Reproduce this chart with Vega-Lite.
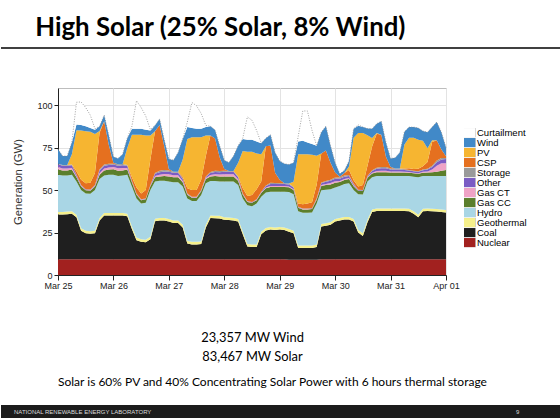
{
"$schema": "https://vega.github.io/schema/vega-lite/v6.json",
"padding": {"left": 0, "right": 0, "top": 15, "bottom": 0},
"background": "white",
"title": {"text": "High Solar (25% Solar, 8% Wind)", "anchor": "start", "frame": "bounds", "dx": 35, "font": "Lato", "fontSize": 25.8, "fontWeight": "bold", "color": "#000000", "offset": 5},
"spacing": 16,
"config": {"view": {"stroke": null}, "font": "Liberation Sans"},
"vconcat": [
{
"width": 560, "height": 23,
"data": {"values": [{"divider": "title rule"}]},
"mark": {"type": "rule", "color": "#000000", "strokeWidth": 1.6},
"encoding": {"y": {"datum": 1, "type": "quantitative", "scale": {"domain": [0, 1]}, "axis": null}}
},
{
"hconcat": [
{
"width": 11, "height": 1,
"data": {"values": []},
"mark": "rule",
"encoding": {}
},
{
"width": 388, "height": 187,
"view": {"stroke": "#bdbdbd", "strokeWidth": 1},
"title": {"text": "Solar is 60% PV and 40% Concentrating Solar Power with 6 hours thermal storage", "orient": "bottom", "anchor": "start", "frame": "group", "font": "Lato", "fontSize": 12, "fontWeight": "normal", "color": "#000000", "offset": 14},
"data": {"values": [
{"t":"2020-03-25T00:00","Nuclear":9.2,"Coal":26.4,"Geothermal":1.5,"Hydro":21.8,"Gas CC":3.2,"Gas CT":1.4,"Other":1.6,"Storage":0.4,"CSP":0,"PV":0,"Wind":8.5,"Curtailment":0},
{"t":"2020-03-25T02:00","Nuclear":9.2,"Coal":26.4,"Geothermal":1.5,"Hydro":21.4,"Gas CC":3.0,"Gas CT":1.2,"Other":1.5,"Storage":0.5,"CSP":0,"PV":0,"Wind":5.3,"Curtailment":0},
{"t":"2020-03-25T04:00","Nuclear":9.2,"Coal":26.6,"Geothermal":1.5,"Hydro":21.2,"Gas CC":3.0,"Gas CT":1.2,"Other":1.5,"Storage":0.5,"CSP":0,"PV":0,"Wind":5.3,"Curtailment":0},
{"t":"2020-03-25T06:00","Nuclear":9.2,"Coal":26.8,"Geothermal":1.5,"Hydro":21.5,"Gas CC":3.0,"Gas CT":1.0,"Other":1.5,"Storage":0.5,"CSP":0,"PV":6,"Wind":7,"Curtailment":0},
{"t":"2020-03-25T08:00","Nuclear":9.2,"Coal":24.8,"Geothermal":1.5,"Hydro":19.5,"Gas CC":2.5,"Gas CT":0.5,"Other":0.8,"Storage":0.3,"CSP":2,"PV":24,"Wind":3.5,"Curtailment":13},
{"t":"2020-03-25T10:00","Nuclear":9.2,"Coal":16.8,"Geothermal":1.5,"Hydro":22.5,"Gas CC":2.0,"Gas CT":0.3,"Other":0.5,"Storage":0.2,"CSP":3,"PV":29,"Wind":3.3,"Curtailment":13.5},
{"t":"2020-03-25T12:00","Nuclear":9.2,"Coal":15.3,"Geothermal":1.5,"Hydro":22.0,"Gas CC":1.8,"Gas CT":0.2,"Other":0.3,"Storage":0.2,"CSP":3.5,"PV":30.5,"Wind":3,"Curtailment":11},
{"t":"2020-03-25T14:00","Nuclear":9.2,"Coal":15.1,"Geothermal":1.5,"Hydro":22.0,"Gas CC":1.8,"Gas CT":0.2,"Other":0.3,"Storage":0.2,"CSP":4,"PV":30,"Wind":2.2,"Curtailment":7.5},
{"t":"2020-03-25T16:00","Nuclear":9.2,"Coal":15.4,"Geothermal":1.5,"Hydro":23.9,"Gas CC":2.0,"Gas CT":0.3,"Other":0.5,"Storage":0.2,"CSP":7,"PV":23,"Wind":2.5,"Curtailment":0.5},
{"t":"2020-03-25T18:00","Nuclear":9.2,"Coal":22.8,"Geothermal":1.5,"Hydro":23.0,"Gas CC":2.5,"Gas CT":1.0,"Other":1.5,"Storage":0.7,"CSP":21.5,"PV":1,"Wind":2.8,"Curtailment":0},
{"t":"2020-03-25T20:00","Nuclear":9.2,"Coal":25.8,"Geothermal":1.5,"Hydro":22.0,"Gas CC":3.0,"Gas CT":1.2,"Other":1.5,"Storage":0.8,"CSP":25.5,"PV":0,"Wind":3.5,"Curtailment":0},
{"t":"2020-03-25T22:00","Nuclear":9.2,"Coal":25.8,"Geothermal":1.5,"Hydro":22.5,"Gas CC":3.0,"Gas CT":1.2,"Other":1.5,"Storage":0.8,"CSP":11,"PV":0,"Wind":5.5,"Curtailment":0},
{"t":"2020-03-26T00:00","Nuclear":9.2,"Coal":25.8,"Geothermal":1.5,"Hydro":22.5,"Gas CC":3.2,"Gas CT":1.3,"Other":1.5,"Storage":0.5,"CSP":0.5,"PV":0,"Wind":3.5,"Curtailment":0},
{"t":"2020-03-26T02:00","Nuclear":9.2,"Coal":25.8,"Geothermal":1.5,"Hydro":21.8,"Gas CC":3.0,"Gas CT":1.5,"Other":1.5,"Storage":0.8,"CSP":0,"PV":0,"Wind":3.5,"Curtailment":0},
{"t":"2020-03-26T04:00","Nuclear":9.2,"Coal":25.8,"Geothermal":1.5,"Hydro":22.0,"Gas CC":3.0,"Gas CT":1.5,"Other":1.5,"Storage":0.8,"CSP":0,"PV":0,"Wind":5.7,"Curtailment":0},
{"t":"2020-03-26T06:00","Nuclear":9.2,"Coal":25.3,"Geothermal":1.5,"Hydro":23.0,"Gas CC":3.0,"Gas CT":1.0,"Other":1.2,"Storage":0.5,"CSP":0,"PV":10,"Wind":5.8,"Curtailment":0},
{"t":"2020-03-26T08:00","Nuclear":9.2,"Coal":17.8,"Geothermal":1.5,"Hydro":23.5,"Gas CC":2.5,"Gas CT":0.3,"Other":0.5,"Storage":0.2,"CSP":2,"PV":25,"Wind":3.5,"Curtailment":1.5},
{"t":"2020-03-26T10:00","Nuclear":9.2,"Coal":11.3,"Geothermal":1.5,"Hydro":23.0,"Gas CC":2.2,"Gas CT":0.3,"Other":0.3,"Storage":0.2,"CSP":3.5,"PV":31,"Wind":3.5,"Curtailment":16.5},
{"t":"2020-03-26T12:00","Nuclear":9.2,"Coal":10.3,"Geothermal":1.5,"Hydro":21.0,"Gas CC":2.0,"Gas CT":0.2,"Other":0.2,"Storage":0.1,"CSP":3.5,"PV":34.5,"Wind":3.5,"Curtailment":12.5},
{"t":"2020-03-26T14:00","Nuclear":9.2,"Coal":10.1,"Geothermal":1.5,"Hydro":21.7,"Gas CC":2.0,"Gas CT":0.2,"Other":0.2,"Storage":0.1,"CSP":5,"PV":32,"Wind":3.5,"Curtailment":8},
{"t":"2020-03-26T16:00","Nuclear":9.2,"Coal":11.8,"Geothermal":1.5,"Hydro":27.5,"Gas CC":2.2,"Gas CT":0.3,"Other":0.3,"Storage":0.2,"CSP":15,"PV":14,"Wind":3,"Curtailment":0.5},
{"t":"2020-03-26T18:00","Nuclear":9.2,"Coal":22.4,"Geothermal":1.5,"Hydro":21.9,"Gas CC":2.5,"Gas CT":0.8,"Other":1.2,"Storage":0.5,"CSP":24.5,"PV":0,"Wind":3.5,"Curtailment":0},
{"t":"2020-03-26T20:00","Nuclear":9.2,"Coal":22.8,"Geothermal":1.5,"Hydro":22.0,"Gas CC":2.5,"Gas CT":1.0,"Other":1.5,"Storage":0.8,"CSP":27,"PV":0,"Wind":3.5,"Curtailment":0},
{"t":"2020-03-26T22:00","Nuclear":9.2,"Coal":22.8,"Geothermal":1.5,"Hydro":22.0,"Gas CC":2.7,"Gas CT":1.2,"Other":1.5,"Storage":0.8,"CSP":14,"PV":0,"Wind":3.8,"Curtailment":0},
{"t":"2020-03-27T00:00","Nuclear":9.2,"Coal":22.3,"Geothermal":1.5,"Hydro":22.0,"Gas CC":3.0,"Gas CT":1.3,"Other":1.5,"Storage":0.6,"CSP":1,"PV":0,"Wind":5.9,"Curtailment":0},
{"t":"2020-03-27T02:00","Nuclear":9.2,"Coal":21.4,"Geothermal":1.5,"Hydro":22.4,"Gas CC":3.0,"Gas CT":1.2,"Other":1.5,"Storage":0.5,"CSP":0,"PV":0,"Wind":6.8,"Curtailment":0},
{"t":"2020-03-27T04:00","Nuclear":9.2,"Coal":21.4,"Geothermal":1.5,"Hydro":22.4,"Gas CC":3.0,"Gas CT":1.2,"Other":1.5,"Storage":0.5,"CSP":0,"PV":0,"Wind":11.3,"Curtailment":0},
{"t":"2020-03-27T06:00","Nuclear":9.2,"Coal":18.8,"Geothermal":1.5,"Hydro":22.5,"Gas CC":2.5,"Gas CT":0.8,"Other":1.2,"Storage":0.5,"CSP":1,"PV":10,"Wind":12,"Curtailment":0},
{"t":"2020-03-27T08:00","Nuclear":9.2,"Coal":9.3,"Geothermal":1.5,"Hydro":25.0,"Gas CC":2.2,"Gas CT":0.3,"Other":0.3,"Storage":0.2,"CSP":3,"PV":29,"Wind":7,"Curtailment":3},
{"t":"2020-03-27T10:00","Nuclear":9.2,"Coal":8.8,"Geothermal":1.5,"Hydro":24.0,"Gas CC":2.0,"Gas CT":0.2,"Other":0.2,"Storage":0.1,"CSP":4,"PV":31,"Wind":5.5,"Curtailment":15},
{"t":"2020-03-27T12:00","Nuclear":9.2,"Coal":8.8,"Geothermal":1.5,"Hydro":24.0,"Gas CC":2.0,"Gas CT":0.2,"Other":0.2,"Storage":0.1,"CSP":4,"PV":31,"Wind":5,"Curtailment":13.5},
{"t":"2020-03-27T14:00","Nuclear":9.2,"Coal":9.0,"Geothermal":1.5,"Hydro":27.3,"Gas CC":2.2,"Gas CT":0.3,"Other":0.3,"Storage":0.2,"CSP":6,"PV":25,"Wind":5,"Curtailment":9},
{"t":"2020-03-27T16:00","Nuclear":9.2,"Coal":18.8,"Geothermal":1.5,"Hydro":24.5,"Gas CC":2.5,"Gas CT":0.5,"Other":0.7,"Storage":0.3,"CSP":12,"PV":12,"Wind":5,"Curtailment":1},
{"t":"2020-03-27T18:00","Nuclear":9.2,"Coal":24.3,"Geothermal":1.5,"Hydro":20.3,"Gas CC":2.7,"Gas CT":0.8,"Other":1.2,"Storage":0.6,"CSP":21.5,"PV":0,"Wind":5.4,"Curtailment":0},
{"t":"2020-03-27T20:00","Nuclear":9.2,"Coal":24.2,"Geothermal":1.5,"Hydro":20.4,"Gas CC":3.0,"Gas CT":1.0,"Other":1.3,"Storage":0.7,"CSP":19,"PV":0,"Wind":5,"Curtailment":0},
{"t":"2020-03-27T22:00","Nuclear":9.2,"Coal":24.1,"Geothermal":1.5,"Hydro":20.2,"Gas CC":3.0,"Gas CT":1.1,"Other":1.4,"Storage":0.7,"CSP":8,"PV":0,"Wind":6.8,"Curtailment":0},
{"t":"2020-03-28T00:00","Nuclear":9.2,"Coal":23.3,"Geothermal":1.5,"Hydro":21.0,"Gas CC":3.0,"Gas CT":1.2,"Other":1.5,"Storage":0.6,"CSP":1,"PV":0,"Wind":5.2,"Curtailment":0},
{"t":"2020-03-28T02:00","Nuclear":9.2,"Coal":23.1,"Geothermal":1.5,"Hydro":21.2,"Gas CC":3.0,"Gas CT":1.2,"Other":1.5,"Storage":0.5,"CSP":0,"PV":0,"Wind":5,"Curtailment":0},
{"t":"2020-03-28T04:00","Nuclear":9.2,"Coal":22.8,"Geothermal":1.5,"Hydro":21.5,"Gas CC":3.0,"Gas CT":1.2,"Other":1.5,"Storage":0.5,"CSP":0,"PV":0,"Wind":8.8,"Curtailment":0},
{"t":"2020-03-28T06:00","Nuclear":9.2,"Coal":22.3,"Geothermal":1.5,"Hydro":20.0,"Gas CC":2.5,"Gas CT":0.8,"Other":1.2,"Storage":0.5,"CSP":0,"PV":8,"Wind":10,"Curtailment":0},
{"t":"2020-03-28T08:00","Nuclear":9.2,"Coal":14.8,"Geothermal":1.5,"Hydro":19.5,"Gas CC":2.2,"Gas CT":0.3,"Other":0.3,"Storage":0.2,"CSP":3,"PV":22,"Wind":7,"Curtailment":0.5},
{"t":"2020-03-28T10:00","Nuclear":9.2,"Coal":7.6,"Geothermal":1.5,"Hydro":22.7,"Gas CC":2.0,"Gas CT":0.2,"Other":0.2,"Storage":0.1,"CSP":3,"PV":26,"Wind":7,"Curtailment":13.5},
{"t":"2020-03-28T12:00","Nuclear":9.2,"Coal":7.3,"Geothermal":1.5,"Hydro":22.5,"Gas CC":2.0,"Gas CT":0.2,"Other":0.2,"Storage":0.1,"CSP":4,"PV":25.5,"Wind":7,"Curtailment":11.5},
{"t":"2020-03-28T14:00","Nuclear":9.2,"Coal":7.3,"Geothermal":1.5,"Hydro":24.0,"Gas CC":2.0,"Gas CT":0.2,"Other":0.2,"Storage":0.1,"CSP":6,"PV":21,"Wind":7,"Curtailment":6.5},
{"t":"2020-03-28T16:00","Nuclear":9.2,"Coal":14.8,"Geothermal":1.5,"Hydro":20.5,"Gas CC":2.2,"Gas CT":0.3,"Other":0.3,"Storage":0.2,"CSP":6,"PV":16,"Wind":6.5,"Curtailment":0},
{"t":"2020-03-28T18:00","Nuclear":9.2,"Coal":17.0,"Geothermal":1.5,"Hydro":20.8,"Gas CC":2.5,"Gas CT":0.5,"Other":0.8,"Storage":0.4,"CSP":23,"PV":0,"Wind":4.8,"Curtailment":0},
{"t":"2020-03-28T20:00","Nuclear":9.2,"Coal":17.5,"Geothermal":1.5,"Hydro":20.8,"Gas CC":2.8,"Gas CT":0.6,"Other":1.2,"Storage":0.6,"CSP":22,"PV":0,"Wind":6.3,"Curtailment":0},
{"t":"2020-03-28T22:00","Nuclear":9.2,"Coal":17.3,"Geothermal":1.5,"Hydro":21.0,"Gas CC":2.8,"Gas CT":0.6,"Other":1.2,"Storage":0.5,"CSP":6,"PV":0,"Wind":11.9,"Curtailment":0},
{"t":"2020-03-29T00:00","Nuclear":9.2,"Coal":17.5,"Geothermal":1.5,"Hydro":20.8,"Gas CC":2.8,"Gas CT":0.5,"Other":1.2,"Storage":0.5,"CSP":2,"PV":0,"Wind":11,"Curtailment":0},
{"t":"2020-03-29T02:00","Nuclear":9.2,"Coal":17.3,"Geothermal":1.5,"Hydro":21.0,"Gas CC":2.8,"Gas CT":0.5,"Other":1.2,"Storage":0.5,"CSP":0,"PV":0,"Wind":11.5,"Curtailment":0},
{"t":"2020-03-29T04:00","Nuclear":9.0,"Coal":16.5,"Geothermal":1.5,"Hydro":21.8,"Gas CC":2.8,"Gas CT":0.5,"Other":1.2,"Storage":0.5,"CSP":0,"PV":0,"Wind":11.2,"Curtailment":0},
{"t":"2020-03-29T06:00","Nuclear":9.0,"Coal":15.5,"Geothermal":1.5,"Hydro":21.5,"Gas CC":2.5,"Gas CT":0.4,"Other":1.0,"Storage":0.4,"CSP":0,"PV":3,"Wind":11.2,"Curtailment":0},
{"t":"2020-03-29T08:00","Nuclear":9.0,"Coal":6.9,"Geothermal":1.5,"Hydro":20.1,"Gas CC":2.0,"Gas CT":0.2,"Other":0.3,"Storage":0.1,"CSP":2,"PV":29,"Wind":7.4,"Curtailment":3},
{"t":"2020-03-29T10:00","Nuclear":9.0,"Coal":6.9,"Geothermal":1.5,"Hydro":19.2,"Gas CC":2.0,"Gas CT":0.2,"Other":0.2,"Storage":0.1,"CSP":2.5,"PV":29.5,"Wind":7.9,"Curtailment":17.5},
{"t":"2020-03-29T12:00","Nuclear":9.0,"Coal":6.9,"Geothermal":1.5,"Hydro":19.2,"Gas CC":2.0,"Gas CT":0.2,"Other":0.2,"Storage":0.1,"CSP":3,"PV":29,"Wind":6.9,"Curtailment":18.5},
{"t":"2020-03-29T14:00","Nuclear":9.0,"Coal":6.9,"Geothermal":1.5,"Hydro":19.4,"Gas CC":2.0,"Gas CT":0.2,"Other":0.2,"Storage":0.1,"CSP":3.5,"PV":28,"Wind":6.2,"Curtailment":8},
{"t":"2020-03-29T16:00","Nuclear":9.0,"Coal":7.5,"Geothermal":1.5,"Hydro":24.0,"Gas CC":2.2,"Gas CT":0.3,"Other":0.4,"Storage":0.2,"CSP":8,"PV":17,"Wind":5.9,"Curtailment":0},
{"t":"2020-03-29T18:00","Nuclear":9.2,"Coal":19.3,"Geothermal":1.5,"Hydro":19.8,"Gas CC":2.5,"Gas CT":0.6,"Other":1.0,"Storage":0.5,"CSP":17,"PV":0,"Wind":12.6,"Curtailment":0},
{"t":"2020-03-29T20:00","Nuclear":9.2,"Coal":19.8,"Geothermal":1.5,"Hydro":19.7,"Gas CC":2.7,"Gas CT":0.7,"Other":1.2,"Storage":0.5,"CSP":18,"PV":0,"Wind":14.2,"Curtailment":0},
{"t":"2020-03-29T22:00","Nuclear":9.2,"Coal":20.3,"Geothermal":1.5,"Hydro":19.5,"Gas CC":2.8,"Gas CT":0.8,"Other":1.3,"Storage":0.6,"CSP":10,"PV":0,"Wind":10,"Curtailment":0},
{"t":"2020-03-30T00:00","Nuclear":9.2,"Coal":22.3,"Geothermal":1.5,"Hydro":18.5,"Gas CC":2.8,"Gas CT":0.8,"Other":1.5,"Storage":0.7,"CSP":3,"PV":0,"Wind":5.7,"Curtailment":0},
{"t":"2020-03-30T02:00","Nuclear":9.2,"Coal":22.8,"Geothermal":1.5,"Hydro":18.8,"Gas CC":2.4,"Gas CT":0.6,"Other":1.3,"Storage":0.7,"CSP":0.5,"PV":0,"Wind":1.7,"Curtailment":0},
{"t":"2020-03-30T04:00","Nuclear":9.2,"Coal":23.4,"Geothermal":1.5,"Hydro":19.4,"Gas CC":2.4,"Gas CT":0.6,"Other":1.3,"Storage":0.7,"CSP":1.5,"PV":0,"Wind":1.5,"Curtailment":0},
{"t":"2020-03-30T06:00","Nuclear":9.2,"Coal":23.4,"Geothermal":1.5,"Hydro":19.9,"Gas CC":2.4,"Gas CT":0.6,"Other":1.2,"Storage":0.6,"CSP":3,"PV":2,"Wind":3.2,"Curtailment":0},
{"t":"2020-03-30T08:00","Nuclear":9.2,"Coal":22.3,"Geothermal":1.5,"Hydro":17.0,"Gas CC":2.2,"Gas CT":0.4,"Other":0.8,"Storage":0.4,"CSP":2,"PV":25,"Wind":5.2,"Curtailment":0},
{"t":"2020-03-30T10:00","Nuclear":9.2,"Coal":15.8,"Geothermal":1.5,"Hydro":21.0,"Gas CC":2.0,"Gas CT":0.2,"Other":0.3,"Storage":0.1,"CSP":2,"PV":31.5,"Wind":4.2,"Curtailment":0.5},
{"t":"2020-03-30T12:00","Nuclear":9.2,"Coal":13.8,"Geothermal":1.5,"Hydro":22.9,"Gas CC":2.0,"Gas CT":0.2,"Other":0.3,"Storage":0.1,"CSP":3,"PV":30.5,"Wind":3.5,"Curtailment":0},
{"t":"2020-03-30T14:00","Nuclear":9.2,"Coal":21.8,"Geothermal":1.5,"Hydro":22.5,"Gas CC":2.2,"Gas CT":0.3,"Other":0.5,"Storage":0.2,"CSP":6,"PV":18,"Wind":4,"Curtailment":0},
{"t":"2020-03-30T16:00","Nuclear":9.2,"Coal":27.8,"Geothermal":1.5,"Hydro":19.0,"Gas CC":2.2,"Gas CT":0.5,"Other":1.0,"Storage":0.4,"CSP":14,"PV":5,"Wind":5.4,"Curtailment":0},
{"t":"2020-03-30T18:00","Nuclear":9.2,"Coal":28.4,"Geothermal":1.5,"Hydro":19.2,"Gas CC":2.2,"Gas CT":0.7,"Other":1.3,"Storage":0.6,"CSP":20,"PV":0.5,"Wind":5.4,"Curtailment":0},
{"t":"2020-03-30T20:00","Nuclear":9.2,"Coal":28.4,"Geothermal":1.5,"Hydro":19.2,"Gas CC":2.2,"Gas CT":0.8,"Other":1.5,"Storage":0.7,"CSP":19,"PV":0,"Wind":8,"Curtailment":0},
{"t":"2020-03-30T22:00","Nuclear":9.2,"Coal":28.4,"Geothermal":1.5,"Hydro":19.2,"Gas CC":2.2,"Gas CT":0.8,"Other":1.5,"Storage":0.7,"CSP":6,"PV":0,"Wind":8.5,"Curtailment":0},
{"t":"2020-03-31T00:00","Nuclear":9.2,"Coal":28.4,"Geothermal":1.5,"Hydro":19.2,"Gas CC":2.0,"Gas CT":0.6,"Other":1.2,"Storage":0.5,"CSP":1,"PV":0,"Wind":4.9,"Curtailment":0},
{"t":"2020-03-31T02:00","Nuclear":9.2,"Coal":28.4,"Geothermal":1.5,"Hydro":19.2,"Gas CC":2.0,"Gas CT":0.6,"Other":1.2,"Storage":0.5,"CSP":0,"PV":0,"Wind":6.4,"Curtailment":0},
{"t":"2020-03-31T04:00","Nuclear":9.2,"Coal":28.4,"Geothermal":1.5,"Hydro":19.2,"Gas CC":2.0,"Gas CT":0.6,"Other":1.2,"Storage":0.5,"CSP":0,"PV":0,"Wind":9.4,"Curtailment":0},
{"t":"2020-03-31T06:00","Nuclear":9.2,"Coal":28.4,"Geothermal":1.5,"Hydro":19.2,"Gas CC":2.0,"Gas CT":0.5,"Other":1.0,"Storage":0.4,"CSP":0.5,"PV":14,"Wind":7.5,"Curtailment":0},
{"t":"2020-03-31T08:00","Nuclear":9.2,"Coal":28.3,"Geothermal":1.5,"Hydro":19.2,"Gas CC":2.0,"Gas CT":0.4,"Other":0.9,"Storage":0.3,"CSP":1,"PV":18,"Wind":6.2,"Curtailment":0},
{"t":"2020-03-31T10:00","Nuclear":9.2,"Coal":26.8,"Geothermal":1.5,"Hydro":20.3,"Gas CC":2.0,"Gas CT":0.4,"Other":0.8,"Storage":0.3,"CSP":1,"PV":18.5,"Wind":6.2,"Curtailment":0},
{"t":"2020-03-31T12:00","Nuclear":9.2,"Coal":24.8,"Geothermal":1.5,"Hydro":22.0,"Gas CC":2.0,"Gas CT":0.4,"Other":0.8,"Storage":0.3,"CSP":1.5,"PV":17,"Wind":7,"Curtailment":0},
{"t":"2020-03-31T14:00","Nuclear":9.2,"Coal":28.3,"Geothermal":1.5,"Hydro":19.2,"Gas CC":2.0,"Gas CT":0.5,"Other":0.9,"Storage":0.4,"CSP":2,"PV":15,"Wind":5.7,"Curtailment":0},
{"t":"2020-03-31T16:00","Nuclear":9.2,"Coal":28.4,"Geothermal":1.5,"Hydro":19.2,"Gas CC":2.0,"Gas CT":0.6,"Other":1.1,"Storage":0.5,"CSP":4,"PV":8,"Wind":9.5,"Curtailment":0},
{"t":"2020-03-31T18:00","Nuclear":9.2,"Coal":28.3,"Geothermal":1.5,"Hydro":19.3,"Gas CC":2.2,"Gas CT":1.5,"Other":1.5,"Storage":0.8,"CSP":14,"PV":1,"Wind":7.7,"Curtailment":0},
{"t":"2020-03-31T20:00","Nuclear":9.2,"Coal":28.1,"Geothermal":1.5,"Hydro":19.5,"Gas CC":2.5,"Gas CT":3.5,"Other":2.0,"Storage":1.0,"CSP":12,"PV":0,"Wind":10.7,"Curtailment":0},
{"t":"2020-03-31T22:00","Nuclear":9.2,"Coal":27.8,"Geothermal":1.5,"Hydro":19.8,"Gas CC":3.0,"Gas CT":4.5,"Other":2.2,"Storage":0.8,"CSP":5,"PV":0,"Wind":10.2,"Curtailment":0},
{"t":"2020-04-01T00:00","Nuclear":9.2,"Coal":27.6,"Geothermal":1.5,"Hydro":20.0,"Gas CC":3.5,"Gas CT":4.0,"Other":2.5,"Storage":0.5,"CSP":1,"PV":0,"Wind":5.2,"Curtailment":0}
]},
"transform": [
{"fold": ["Nuclear","Coal","Geothermal","Hydro","Gas CC","Gas CT","Other","Storage","CSP","PV","Wind","Curtailment"], "as": ["source", "GW"]},
{"lookup": "source", "from": {"data": {"values": [
 {"source": "Nuclear", "layer": 1}, {"source": "Coal", "layer": 2}, {"source": "Geothermal", "layer": 3}, {"source": "Hydro", "layer": 4},
 {"source": "Gas CC", "layer": 5}, {"source": "Gas CT", "layer": 6}, {"source": "Other", "layer": 7}, {"source": "Storage", "layer": 8},
 {"source": "CSP", "layer": 9}, {"source": "PV", "layer": 10}, {"source": "Wind", "layer": 11}, {"source": "Curtailment", "layer": 12}
]}, "key": "source", "fields": ["layer"]}}
],
"layer": [
{
"mark": {"type": "area", "interpolate": "linear"},
"encoding": {
"x": {"field": "t", "type": "temporal",
 "scale": {"domain": [{"year": 2020, "month": "mar", "date": 25}, {"year": 2020, "month": "apr", "date": 1}]},
 "title": ["23,357 MW Wind", "83,467 MW Solar"],
 "axis": {"format": "%b %d", "tickCount": {"interval": "day", "step": 1}, "labelFlush": false, "labelOverlap": false, "labelFont": "Liberation Sans", "labelFontSize": 9, "labelColor": "#222222", "tickColor": "#222222", "tickSize": 5, "domainColor": "#222222", "gridColor": "#e3e3e3", "labelPadding": 1, "titleFont": "Lato", "titleFontSize": 12.9, "titleFontWeight": "normal", "titleColor": "#000000", "titlePadding": 41, "titleLineHeight": 19}},
"y": {"field": "GW", "type": "quantitative", "stack": "zero",
 "scale": {"domain": [0, 110], "nice": false},
 "title": "Generation (GW)",
 "axis": {"values": [0, 25, 50, 75, 100], "labelFont": "Liberation Sans", "labelFontSize": 9, "labelColor": "#222222", "labelPadding": 2, "tickColor": "#222222", "tickSize": 4, "domainColor": "#222222", "gridColor": "#e3e3e3", "titleFont": "Liberation Sans", "titleFontSize": 11.3, "titleFontWeight": "normal", "titleColor": "#333333", "titlePadding": 13}},
"order": {"field": "layer", "type": "quantitative"},
"color": {"field": "source", "type": "nominal",
 "scale": {"domain": ["Nuclear","Coal","Geothermal","Hydro","Gas CC","Gas CT","Other","Storage","CSP","PV","Wind","Curtailment"],
  "range": ["#a2211f","#1f1f1f","#f6f08c","#a9d6e5","#5b7f2c","#efa3c6","#7b5cc4","#9a9a9a","#e5701f","#f6b531","#4189c8","#ffffff"]},
 "legend": {"title": null, "orient": "none", "legendX": 463, "legendY": 80, "padding": 0,
  "values": ["Curtailment","Wind","PV","CSP","Storage","Other","Gas CT","Gas CC","Hydro","Geothermal","Coal","Nuclear"],
  "symbolType": "M-1.2,-1H1.2V1H-1.2Z", "symbolSize": 100, "symbolStrokeColor": "#b0b0b0", "symbolStrokeWidth": 0.5,
  "labelFont": "Liberation Sans", "labelFontSize": 9.5, "labelColor": "#000000", "labelOffset": 2, "rowPadding": -1, "clipHeight": 9.2}}
}
},
{
"transform": [{"aggregate": [{"op": "sum", "field": "GW", "as": "total"}], "groupby": ["t"]}],
"mark": {"type": "line", "color": "#8a8a8a", "strokeDash": [1, 1.5], "strokeWidth": 0.8},
"encoding": {
"x": {"field": "t", "type": "temporal", "title": ["23,357 MW Wind", "83,467 MW Solar"]},
"y": {"field": "total", "type": "quantitative", "title": "Generation (GW)"}
}
}
]
}
],
"spacing": 0
},
{
"width": 560, "height": 13,
"view": {"fill": "#1c1c1c", "stroke": null},
"data": {"values": [{"label": "NATIONAL RENEWABLE ENERGY LABORATORY", "side": "left"}, {"label": "9", "side": "right"}]},
"mark": {"type": "text", "font": "Liberation Sans", "fontSize": 6, "color": "#dddddd", "align": "left", "baseline": "middle"},
"encoding": {
"x": {"field": "side", "type": "nominal", "scale": {"type": "point", "domain": ["left", "right"], "range": [13, 515], "padding": 0}, "axis": null},
"text": {"field": "label"}
}
}
]
}
